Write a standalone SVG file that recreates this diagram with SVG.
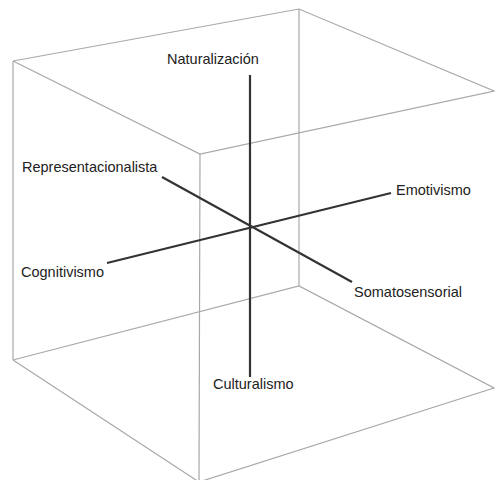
<svg xmlns="http://www.w3.org/2000/svg" width="495" height="480" viewBox="0 0 495 480">
<style>
.cube{stroke:#a8a8a8;stroke-width:1.2;fill:none}
.axis{stroke:#333;stroke-width:2.2;fill:none}
text{font-family:"Liberation Sans",Arial,sans-serif;font-size:14.5px;fill:#222}
</style>
<rect width="495" height="480" fill="#fff"/>
<g id="cube">
<polyline class="cube" points="13,61 299,9 494,91 200,154 13,61"/>
<polyline class="cube" points="13,360 299,286 494,388 199,482 13,360"/>
<line class="cube" x1="13" y1="61" x2="13" y2="360"/>
<line class="cube" x1="299" y1="9" x2="299" y2="286"/>
<line class="cube" x1="200" y1="154" x2="199" y2="482"/>
</g>
<g id="connectors">
<line class="axis" x1="250" y1="75" x2="250" y2="377"/>
<line class="axis" x1="107" y1="263" x2="391" y2="193"/>
<line class="axis" x1="162" y1="177" x2="352" y2="282"/>
</g>
<g id="naturalizacion"><text x="167" y="64">Naturalización</text></g>
<g id="culturalismo"><text x="213" y="389">Culturalismo</text></g>
<g id="representacionalista"><text x="22" y="172">Representacionalista</text></g>
<g id="somatosensorial"><text x="354" y="297">Somatosensorial</text></g>
<g id="emotivismo"><text x="396" y="195">Emotivismo</text></g>
<g id="cognitivismo"><text x="21" y="277">Cognitivismo</text></g>
</svg>
